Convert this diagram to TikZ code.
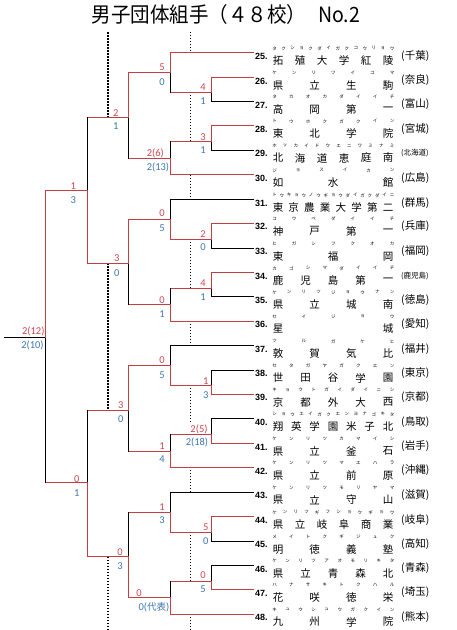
\documentclass[tikz,border=0pt]{standalone}
\usepackage{fontspec}
\setmainfont{Carlito}
\newfontfamily\jp{Noto Sans CJK JP}
\newfontfamily\numfont{Liberation Sans}
\definecolor{wred}{RGB}{196,62,68}
\definecolor{sred}{RGB}{208,70,82}
\definecolor{sblue}{RGB}{62,118,178}

\ExplSyntaxOn
\int_new:N \l_spread_n_int
\int_new:N \l_spread_k_int
\NewDocumentCommand \spreadtext {mmmmm}
 {
  \int_set:Nn \l_spread_n_int { \tl_count:n {#1} }
  \int_zero:N \l_spread_k_int
  \tl_map_inline:nn {#1}
   {
    \node[#5]~at~({#2+(#3-#2)*\int_use:N \l_spread_k_int/max(1,\int_use:N \l_spread_n_int-1)},{#4})~{##1};
    \int_incr:N \l_spread_k_int
   }
 }
\ExplSyntaxOff

\tikzset{
  win/.style={draw=wred, line width=1pt, line cap=rect},
  lose/.style={draw=black, line width=1pt, line cap=rect},
  namech/.style={font=\jp\fontsize{10.5}{10.5}\selectfont, inner sep=0pt},
  furi/.style={font=\jp\fontsize{4.5}{4.5}\selectfont, inner sep=0pt},
  numlab/.style={font=\numfont\bfseries\fontsize{9}{9}\selectfont, anchor=west, inner sep=0pt},
  preflab/.style={anchor=west, inner sep=0pt},
  sr/.style={text=sred, font=\fontsize{10.5}{10.5}\selectfont, inner sep=0pt},
  sb/.style={text=sblue, font=\fontsize{10.5}{10.5}\selectfont, inner sep=0pt},
  thickdot/.style={line width=2pt, dash pattern=on 1.5pt off 1.5pt},
  thindot/.style={line width=0.9pt, dash pattern=on 1pt off 2pt},
  titlefont/.style={anchor=west, inner sep=0pt, font=\jp\fontsize{19.5}{19.5}\selectfont},
}

% team: y, number, name, furigana, prefecture, pref font size
\newcommand\team[6]{%
  \node[numlab] (n#2) at (255,#1+3.6) {#2.};
  \spreadtext{#3}{278}{388}{#1+8}{namech}
  \spreadtext{#4}{274.5}{392}{#1-4.4}{furi}
  \node[preflab, font=\jp\fontsize{#6}{#6}\selectfont] (p#2) at (401,#1+3) {(#5)};
}
% leaf line: name, y, entry column, style
\newcommand\leaf[4]{%
  \coordinate (L#1) at (253,#2);
  \coordinate (E#1) at (#3,#2);
  \draw[#4] (L#1) -- (E#1);
}
% match: name, column x, top y, bottom y, out y, winner t/b, previous column x
\newcommand\mt[7]{%
  \coordinate (#1) at (#2,#5);
  \coordinate (#1-t) at (#2,#3);
  \coordinate (#1-b) at (#2,#4);
  \coordinate (#1-o) at (#7,#5);
  \if t#6
    \draw[lose] (#1) -- (#1-b);
    \draw[win] (#1-t) -- (#1) -- (#1-o);
  \else
    \draw[lose] (#1) -- (#1-t);
    \draw[win] (#1-b) -- (#1) -- (#1-o);
  \fi
}

\begin{document}
\begin{tikzpicture}[x=1pt,y=-1pt]
\useasboundingbox (0,0) rectangle (457,630);
\fill[white] (0,0) rectangle (457,630);

% title
\node[titlefont] (title) at (91.5,14.5) {\scalebox{1}[1.08]{男子団体組手（４８校）}};
\node[titlefont] (titleno) at (318,14.5) {\scalebox{1}[1.08]{No.2}};

% dotted separators
\coordinate (da1) at (107.7,32); \coordinate (da2) at (107.7,117.3);
\coordinate (da3) at (107.7,263.3); \coordinate (da4) at (107.7,410.3);
\coordinate (da5) at (107.7,556.7); \coordinate (da6) at (107.7,630);
\draw[thickdot] (da1) -- (da2);
\draw[thickdot] (da3) -- (da4);
\draw[thickdot] (da5) -- (da6);
\foreach \a/\b in {32/52.7, 92.3/141.3, 174.7/199.7, 239.3/288.7, 321/345.7, 385.3/426, 467.3/492, 532.3/581.3, 614/630}{
  \draw[thindot] (190.3,\a) -- (190.3,\b);
}

% leaf lines (black first)
\leaf{27}{101.3}{211}{lose}
\leaf{29}{150.0}{211}{lose}
\leaf{31}{199.7}{170}{lose}
\leaf{33}{248.3}{211}{lose}
\leaf{35}{296.7}{211}{lose}
\leaf{37}{345.7}{170}{lose}
\leaf{38}{370.0}{211}{lose}
\leaf{40}{418.7}{211}{lose}
\leaf{43}{492.0}{170}{lose}
\leaf{45}{541.3}{211}{lose}
\leaf{46}{565.3}{211}{lose}
\leaf{25}{52.7}{170}{win}
\leaf{26}{77.3}{211}{win}
\leaf{28}{125.7}{211}{win}
\leaf{30}{174.7}{170}{win}
\leaf{32}{223.3}{211}{win}
\leaf{34}{272.7}{211}{win}
\leaf{36}{321.0}{170}{win}
\leaf{39}{394.3}{211}{win}
\leaf{41}{443.3}{211}{win}
\leaf{42}{467.3}{170}{win}
\leaf{44}{516.7}{211}{win}
\leaf{47}{589.3}{211}{win}
\leaf{48}{614.0}{170}{win}

% matches
\mt{A}{211}{77.3}{101.3}{92.3}{t}{170}
\mt{B}{170}{52.7}{92.3}{72.3}{t}{128.7}
\mt{C}{211}{125.7}{150.0}{141.3}{t}{170}
\mt{D}{170}{141.3}{174.7}{158.3}{b}{128.7}
\mt{E}{128.7}{72.3}{158.3}{117.3}{t}{87.3}
\mt{G}{211}{223.3}{248.3}{239.3}{t}{170}
\mt{H}{170}{199.7}{239.3}{219.3}{b}{128.7}
\mt{I}{211}{272.7}{296.7}{288.7}{t}{170}
\mt{J}{170}{288.7}{321.0}{304.7}{b}{128.7}
\mt{K}{128.7}{219.3}{304.7}{263.3}{t}{87.3}
\mt{L}{87.3}{117.3}{263.3}{190.3}{b}{45.7}
\mt{M}{211}{370.0}{394.3}{385.3}{b}{170}
\mt{N}{170}{345.7}{385.3}{365.3}{b}{128.7}
\mt{O}{211}{418.7}{443.3}{434.3}{b}{170}
\mt{P}{170}{434.3}{467.3}{451.3}{b}{128.7}
\mt{Q}{128.7}{365.3}{451.3}{410.3}{t}{87.3}
\mt{R}{211}{516.7}{541.3}{532.3}{t}{170}
\mt{S}{170}{492.0}{532.3}{512.3}{b}{128.7}
\mt{T}{211}{565.3}{589.3}{581.3}{b}{170}
\mt{U}{170}{581.3}{614.0}{597.3}{b}{128.7}
\mt{V}{128.7}{512.3}{597.3}{556.7}{b}{87.3}
\mt{W}{87.3}{410.3}{556.7}{482.7}{b}{45.7}
% final
\coordinate (X) at (45.7,337.3);
\coordinate (X-t) at (45.7,190.3);
\coordinate (X-b) at (45.7,482.7);
\coordinate (X-o) at (4,337.3);
\draw[lose] (X) -- (X-b);
\draw[lose] (X-o) -- (X);
\draw[win] (X-t) -- (X);

% scores
\node[sr] (sA) at (203,86.7) {4};   \node[sb] (bA) at (203,101) {1};
\node[sr] (sB) at (162,67.3) {5};   \node[sb] (bB) at (162,81.7) {0};
\node[sr] (sC) at (203,136.7) {3};  \node[sb] (bC) at (203,150) {1};
\node[sr] (sD) at (155.3,153.3) {2(6)}; \node[sb] (bD) at (158,167.7) {2(13)};
\node[sr] (sE) at (115.7,112.7) {2}; \node[sb] (bE) at (115.7,126) {1};
\node[sr] (sL) at (73.3,185.7) {1};  \node[sb] (bL) at (73.3,200) {3};
\node[sr] (sH) at (162,213.3) {0};  \node[sb] (bH) at (162,227.7) {5};
\node[sr] (sG) at (203,234) {2};    \node[sb] (bG) at (203,247.3) {0};
\node[sr] (sK) at (116.7,258.3) {3}; \node[sb] (bK) at (116.7,272.7) {0};
\node[sr] (sI) at (203,282.7) {4};  \node[sb] (bI) at (203,296.7) {1};
\node[sr] (sJ) at (162,300.3) {0};  \node[sb] (bJ) at (162,314.3) {1};
\node[sr] (sX) at (33.3,331.7) {2(12)}; \node[sb] (bX) at (32.5,345.5) {2(10)};
\node[sr] (sN) at (162,360) {0};    \node[sb] (bN) at (162,375.3) {5};
\node[sr] (sM) at (205.7,380.7) {1}; \node[sb] (bM) at (205.7,395) {3};
\node[sr] (sQ) at (120.7,404.7) {3}; \node[sb] (bQ) at (120.7,418.7) {0};
\node[sr, fill=white] (sO) at (199,429) {2(5)}; \node[sb] (bO) at (197,442.7) {2(18)};
\node[sr] (sP) at (162,446) {1};    \node[sb] (bP) at (162,459.3) {4};
\node[sr] (sW) at (76.7,478.7) {0}; \node[sb] (bW) at (76.7,492.7) {1};
\node[sr] (sS) at (162,506.7) {1};  \node[sb] (bS) at (162,520) {3};
\node[sr] (sR) at (205.7,526.7) {5}; \node[sb] (bR) at (205.7,540.7) {0};
\node[sr] (sV) at (120,551.7) {0};  \node[sb] (bV) at (120,566) {3};
\node[sr] (sT) at (203,575.3) {0};  \node[sb] (bT) at (203,589.3) {5};
\node[sr] (sU) at (139,592.7) {0};  \node[sb] (bU) at (154,607.7) {0({\jp\fontsize{9.5}{9.5}\selectfont 代表})};

% teams
\team{52.7}{25}{拓殖大学紅陵}{タクショクダイガクコウリョウ}{千葉}{10.5}
\team{77.3}{26}{県立生駒}{ケンリツイコマ}{奈良}{10.5}
\team{101.3}{27}{高岡第一}{タカオカダイイチ}{富山}{10.5}
\team{125.7}{28}{東北学院}{トウホクガクイン}{宮城}{10.5}
\team{150.0}{29}{北海道恵庭南}{ホッカイドウエニワミナミ}{北海道}{7.5}
\team{174.7}{30}{如水館}{ジョスイカン}{広島}{10.5}
\team{199.7}{31}{東京農業大学第二}{トウキョウノウギョウダイガクダイニ}{群馬}{10.5}
\team{223.3}{32}{神戸第一}{コウベダイイチ}{兵庫}{10.5}
\team{248.3}{33}{東福岡}{ヒガシフクオカ}{福岡}{10.5}
\team{272.7}{34}{鹿児島第一}{カゴシマダイイチ}{鹿児島}{7.5}
\team{296.7}{35}{県立城南}{ケンリツジョウナン}{徳島}{10.5}
\team{321.0}{36}{星城}{セイジョウ}{愛知}{10.5}
\team{345.7}{37}{敦賀気比}{ツルガケヒ}{福井}{10.5}
\team{370.0}{38}{世田谷学園}{セタガヤガクエン}{東京}{10.5}
\team{394.3}{39}{京都外大西}{キョウトガイダイニシ}{京都}{10.5}
\team{418.7}{40}{翔英学園米子北}{ショウエイガクエンヨナゴキタ}{鳥取}{10.5}
\team{443.3}{41}{県立釜石}{ケンリツカマイシ}{岩手}{10.5}
\team{467.3}{42}{県立前原}{ケンリツマエハラ}{沖縄}{10.5}
\team{492.0}{43}{県立守山}{ケンリツモリヤマ}{滋賀}{10.5}
\team{516.7}{44}{県立岐阜商業}{ケンリツギフショウギョウ}{岐阜}{10.5}
\team{541.3}{45}{明徳義塾}{メイトクギジュク}{高知}{10.5}
\team{565.3}{46}{県立青森北}{ケンリツアオモリキタ}{青森}{10.5}
\team{589.3}{47}{花咲徳栄}{ハナサキトクハル}{埼玉}{10.5}
\team{614.0}{48}{九州学院}{キュウシュウガクイン}{熊本}{10.5}
\end{tikzpicture}
\end{document}
